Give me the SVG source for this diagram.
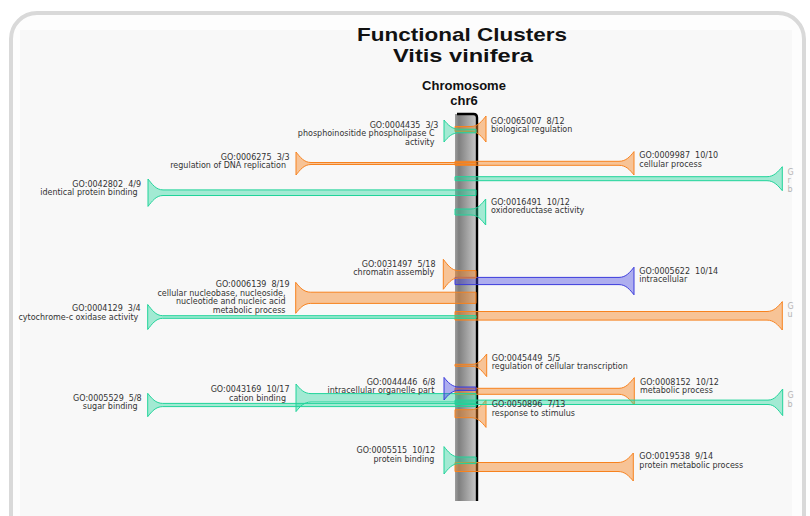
<svg xmlns="http://www.w3.org/2000/svg" width="810" height="516" viewBox="0 0 810 516">
  <defs>
    <linearGradient id="chromGrad" x1="0" y1="0" x2="1" y2="0">
      <stop offset="0" stop-color="#9c9c9c"/>
      <stop offset="0.18" stop-color="#7f7f7f"/>
      <stop offset="1" stop-color="#c8c8c8"/>
    </linearGradient>
    <clipPath id="panelClip">
      <rect x="14" y="14" width="778" height="510"/>
    </clipPath>
    <style>
      .title { font-family: "Liberation Sans", Arial, sans-serif; font-weight: bold; fill: #111; text-anchor: middle; }
      .lbl { font-family: "DejaVu Sans", Verdana, sans-serif; font-size: 8px; fill: #333; white-space: pre; }
      .end { text-anchor: end; }
      .faint { font-family: "DejaVu Sans", Verdana, sans-serif; font-size: 8px; fill: #b4b4b4; }
      .orange { fill: #f7821e; fill-opacity: 0.45; stroke: #f7821e; stroke-width: 1; }
      .teal { fill: #20d49a; fill-opacity: 0.4; stroke: #20d49a; stroke-width: 1; }
      .blue { fill: #3f3fe0; fill-opacity: 0.4; stroke: #3b3bdc; stroke-width: 1; }
    </style>
  </defs>

  <!-- frame and panel -->
  <rect x="0" y="0" width="810" height="516" fill="#ffffff"/>
  <rect x="11" y="13" width="793" height="540" rx="26" ry="26" fill="#fdfdfd" stroke="#d9d9d9" stroke-width="4"/>
  <rect x="20" y="30" width="772" height="500" fill="#f8f8f8"/>

  <!-- titles -->
  <text class="title" x="462" y="41" font-size="18.5" textLength="210" lengthAdjust="spacingAndGlyphs">Functional Clusters</text>
  <text class="title" x="463" y="62" font-size="18.5" textLength="140" lengthAdjust="spacingAndGlyphs">Vitis vinifera</text>
  <text class="title" x="464" y="90" font-size="13">Chromosome</text>
  <text class="title" x="464" y="105" font-size="13">chr6</text>

  <!-- chromosome chr6 -->
  <g id="chromosome">
    <rect x="455" y="114" width="21.5" height="387" fill="url(#chromGrad)"/>
    <path d="M457 114 L473.5 114 Q477 114 477 117.5 L477 501" fill="none" stroke="#000" stroke-width="2.4"/>
  </g>

  <!-- connectors: funnel mouth at the label, band running to the chromosome -->
  <g id="connectors" clip-path="url(#panelClip)">
    <!-- right side, orange -->
    <path class="orange" d="M455 126.5 L471 126.5 C478 126.5 482 121 486 116 L486 142 C482 137 478 131.5 471 131.5 L455 131.5 Z"/>
    <path class="orange" d="M455 161.3 L619 161.3 C626 161.3 630 156.6 634 151.6 L634 175 C630 170 626 165.3 619 165.3 L455 165.3 Z"/>
    <path class="orange" d="M455 311.5 L767 311.5 C774 311.5 778 306.6 782.3 301.6 L782.3 330 C778 325 774 320.1 767 320.1 L455 320.1 Z"/>
    <path class="orange" d="M455 364.3 L472 364.3 C479 364.3 482.5 359 486.7 354 L486.7 376.6 C482.5 371.6 479 366.3 472 366.3 L455 366.3 Z"/>
    <path class="orange" d="M455 388.3 L619 388.3 C626 388.3 630 382.6 634.3 377.6 L634.3 405 C630 400 626 394.3 619 394.3 L455 394.3 Z"/>
    <path class="orange" d="M455 409.7 L471 409.7 C478 409.7 482 405 486 400 L486 427.4 C482 422.4 478 417.7 471 417.7 L455 417.7 Z"/>
    <path class="orange" d="M455 462.5 L618 462.5 C625 462.5 629 458 633.3 453 L633.3 481 C629 476 625 471.5 618 471.5 L455 471.5 Z"/>
    <!-- right side, teal -->
    <path class="teal" d="M455 176.7 L767 176.7 C774 176.7 778 171.7 782.3 166.7 L782.3 190.7 C778 185.7 774 180.7 767 180.7 L455 180.7 Z"/>
    <path class="teal" d="M455 209 L471 209 C478 209 481.5 204 485.7 199 L485.7 225 C481.5 220 478 215 471 215 L455 215 Z"/>
    <path class="teal" d="M455 400.1 L768 400.1 C775 400.1 778.5 394 782.7 389 L782.7 415.6 C778.5 410.6 775 404.5 768 404.5 L455 404.5 Z"/>
    <!-- right side, blue -->
    <path class="blue" d="M455 277.4 L619 277.4 C626 277.4 630 272.2 634 267.2 L634 294.8 C630 289.8 626 284.6 619 284.6 L455 284.6 Z"/>

    <!-- left side, orange -->
    <path class="orange" d="M296 152 C300 157 304 162.5 311 162.5 L476 162.5 L476 164.5 L311 164.5 C304 164.5 300 170 296 175 Z"/>
    <path class="orange" d="M443.3 259.3 C447.3 264.3 451.3 270.6 458.3 270.6 L476 270.6 L476 278 L458.3 278 C451.3 278 447.3 284.3 443.3 289.3 Z"/>
    <path class="orange" d="M295.7 282.3 C299.7 287.3 303.7 292.2 310.7 292.2 L476 292.2 L476 303.4 L310.7 303.4 C303.7 303.4 299.7 308.3 295.7 313.3 Z"/>
    <!-- left side, teal -->
    <path class="teal" d="M444 120 C448 125 452 129.2 459 129.2 L476 129.2 L476 132.8 L459 132.8 C452 132.8 448 137 444 142 Z"/>
    <path class="teal" d="M148 179 C152 184 156 189.9 163 189.9 L476 189.9 L476 195.5 L163 195.5 C156 195.5 152 201.4 148 206.4 Z"/>
    <path class="teal" d="M147.7 304.5 C151.7 309.5 155.7 315.7 162.7 315.7 L476 315.7 L476 318.3 L162.7 318.3 C155.7 318.3 151.7 324.5 147.7 329.5 Z"/>
    <path class="teal" d="M296 384 C300 389 304 393.6 311 393.6 L476 393.6 L476 402 L311 402 C304 402 300 406.6 296 411.6 Z"/>
    <path class="teal" d="M147.7 393.3 C151.7 398.3 155.7 403.4 162.7 403.4 L476 403.4 L476 406.6 L162.7 406.6 C155.7 406.6 151.7 411.7 147.7 416.7 Z"/>
    <path class="teal" d="M444 446.6 C448 451.6 452 457 459 457 L476 457 L476 463.6 L459 463.6 C452 463.6 448 469 444 474 Z"/>
    <!-- left side, blue -->
    <path class="blue" d="M444 377.4 C448 382.4 452 387 459 387 L476 387 L476 390.4 L459 390.4 C452 390.4 448 395 444 400 Z"/>
  </g>

  <!-- GO term nodes -->
  <g id="go0004435">
    <text class="lbl end" x="438.3" y="128">GO:0004435  3/3</text>
    <text class="lbl end" x="434.5" y="136.3">phosphoinositide phospholipase C</text>
    <text class="lbl end" x="434.5" y="144.5">activity</text>
  </g>
  <g id="go0065007">
    <text class="lbl" x="490.8" y="124">GO:0065007  8/12</text>
    <text class="lbl" x="491" y="132.3">biological regulation</text>
  </g>
  <g id="go0006275">
    <text class="lbl end" x="289.5" y="160">GO:0006275  3/3</text>
    <text class="lbl end" x="286" y="168.3">regulation of DNA replication</text>
  </g>
  <g id="go0009987">
    <text class="lbl" x="639.3" y="158.3">GO:0009987  10/10</text>
    <text class="lbl" x="639.3" y="166.7">cellular process</text>
  </g>
  <g id="goRightA">
    <text class="faint" x="787.5" y="175">G</text>
    <text class="faint" x="787.5" y="183.3">r</text>
    <text class="faint" x="787.5" y="191.7">b</text>
  </g>
  <g id="go0042802">
    <text class="lbl end" x="141" y="186.7">GO:0042802  4/9</text>
    <text class="lbl end" x="137.7" y="195">identical protein binding</text>
  </g>
  <g id="go0016491">
    <text class="lbl" x="491" y="205">GO:0016491  10/12</text>
    <text class="lbl" x="491" y="213.3">oxidoreductase activity</text>
  </g>
  <g id="go0031497">
    <text class="lbl end" x="435.5" y="266.7">GO:0031497  5/18</text>
    <text class="lbl end" x="434.3" y="275">chromatin assembly</text>
  </g>
  <g id="go0005622">
    <text class="lbl" x="639.3" y="274">GO:0005622  10/14</text>
    <text class="lbl" x="639.3" y="282.3">intracellular</text>
  </g>
  <g id="go0006139">
    <text class="lbl end" x="289.5" y="287.3">GO:0006139  8/19</text>
    <text class="lbl end" x="285.5" y="295.7">cellular nucleobase, nucleoside,</text>
    <text class="lbl end" x="285.5" y="304.2">nucleotide and nucleic acid</text>
    <text class="lbl end" x="285.5" y="312.8">metabolic process</text>
  </g>
  <g id="go0004129">
    <text class="lbl end" x="140.7" y="310.7">GO:0004129  3/4</text>
    <text class="lbl end" x="138.3" y="319.5">cytochrome-c oxidase activity</text>
  </g>
  <g id="goRightB">
    <text class="faint" x="787.5" y="308.5">G</text>
    <text class="faint" x="787.5" y="317.2">u</text>
  </g>
  <g id="go0045449">
    <text class="lbl" x="491.7" y="360.5">GO:0045449  5/5</text>
    <text class="lbl" x="491.7" y="369.3">regulation of cellular transcription</text>
  </g>
  <g id="go0044446">
    <text class="lbl end" x="435.3" y="385">GO:0044446  6/8</text>
    <text class="lbl end" x="434.3" y="393.3">intracellular organelle part</text>
  </g>
  <g id="go0043169">
    <text class="lbl end" x="289.5" y="391.7">GO:0043169  10/17</text>
    <text class="lbl end" x="286" y="400.5">cation binding</text>
  </g>
  <g id="go0008152">
    <text class="lbl" x="640" y="385">GO:0008152  10/12</text>
    <text class="lbl" x="640" y="393.3">metabolic process</text>
  </g>
  <g id="go0005529">
    <text class="lbl end" x="141.7" y="400.7">GO:0005529  5/8</text>
    <text class="lbl end" x="137.7" y="409.3">sugar binding</text>
  </g>
  <g id="goRightC">
    <text class="faint" x="787.5" y="398.3">G</text>
    <text class="faint" x="787.5" y="406.7">b</text>
  </g>
  <g id="go0050896">
    <text class="lbl" x="491.7" y="407.3">GO:0050896  7/13</text>
    <text class="lbl" x="491.7" y="416">response to stimulus</text>
  </g>
  <g id="go0005515">
    <text class="lbl end" x="435.3" y="452.7">GO:0005515  10/12</text>
    <text class="lbl end" x="434.3" y="461.7">protein binding</text>
  </g>
  <g id="go0019538">
    <text class="lbl" x="639.3" y="459.3">GO:0019538  9/14</text>
    <text class="lbl" x="639.3" y="468.3">protein metabolic process</text>
  </g>
</svg>
